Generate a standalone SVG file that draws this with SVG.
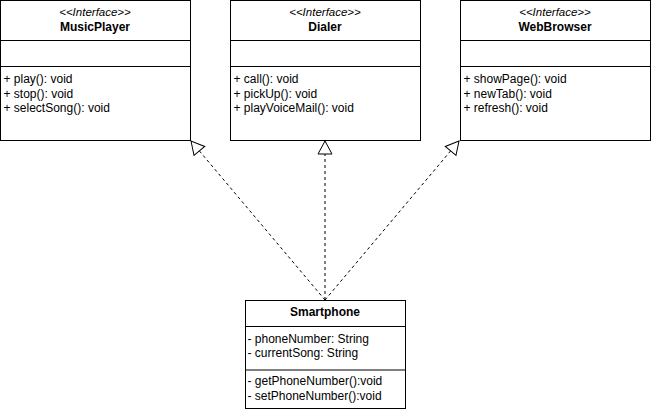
<svg xmlns="http://www.w3.org/2000/svg" width="651" height="411" viewBox="0 0 651 411">
<style>
.box{fill:#fff;stroke:#000;stroke-width:1}
.sep{stroke:#000;stroke-width:1}
.st{font-family:"Liberation Sans",Arial,sans-serif;font-size:11.5px;font-style:italic;text-anchor:middle;fill:#000}
.nm{font-family:"Liberation Sans",Arial,sans-serif;font-size:12px;font-weight:bold;text-anchor:middle;fill:#000}
.tx{font-family:"Liberation Sans",Arial,sans-serif;font-size:12px;fill:#000}
.dash{fill:none;stroke:#000;stroke-width:1;stroke-dasharray:3 3}
</style>
<defs>
<marker id="real" markerUnits="userSpaceOnUse" markerWidth="20" markerHeight="20" viewBox="-15 -10 17 20" refX="0" refY="0" orient="auto">
<path d="M0,0 L-13,-7 L-13,7 Z" fill="#fff" stroke="#000" stroke-width="1"/>
</marker>
</defs>
<rect width="651" height="411" fill="#fff"/>
<g id="connectors">
<line class="dash" x1="325" y1="300" x2="191" y2="141" marker-end="url(#real)"/>
<line class="dash" x1="325" y1="300" x2="325" y2="141" marker-end="url(#real)"/>
<line class="dash" x1="325" y1="300" x2="459" y2="141" marker-end="url(#real)"/>
</g>
<g id="MusicPlayer">
<rect class="box" x="0.5" y="0.5" width="190" height="140"/>
<line class="sep" x1="0.5" y1="40.5" x2="190.5" y2="40.5"/>
<line class="sep" x1="0.5" y1="66.5" x2="190.5" y2="66.5"/>
<text class="st" x="95" y="16">&lt;&lt;Interface&gt;&gt;</text>
<text class="nm" x="95" y="31">MusicPlayer</text>
<text class="tx" x="3.5" y="83">+ play(): void</text>
<text class="tx" x="3.5" y="97.5">+ stop(): void</text>
<text class="tx" x="3.5" y="112">+ selectSong(): void</text>
</g>
<g id="Dialer">
<rect class="box" x="230.5" y="0.5" width="190" height="140"/>
<line class="sep" x1="230.5" y1="40.5" x2="420.5" y2="40.5"/>
<line class="sep" x1="230.5" y1="66.5" x2="420.5" y2="66.5"/>
<text class="st" x="325" y="16">&lt;&lt;Interface&gt;&gt;</text>
<text class="nm" x="325" y="31">Dialer</text>
<text class="tx" x="233.5" y="83">+ call(): void</text>
<text class="tx" x="233.5" y="97.5">+ pickUp(): void</text>
<text class="tx" x="233.5" y="112">+ playVoiceMail(): void</text>
</g>
<g id="WebBrowser">
<rect class="box" x="460.5" y="0.5" width="190" height="140"/>
<line class="sep" x1="460.5" y1="40.5" x2="650.5" y2="40.5"/>
<line class="sep" x1="460.5" y1="66.5" x2="650.5" y2="66.5"/>
<text class="st" x="555" y="16">&lt;&lt;Interface&gt;&gt;</text>
<text class="nm" x="555" y="31">WebBrowser</text>
<text class="tx" x="463.5" y="83">+ showPage(): void</text>
<text class="tx" x="463.5" y="97.5">+ newTab(): void</text>
<text class="tx" x="463.5" y="112">+ refresh(): void</text>
</g>
<g id="Smartphone">
<rect class="box" x="245.5" y="300.5" width="160" height="108"/>
<line class="sep" x1="245.5" y1="326.5" x2="405.5" y2="326.5"/>
<line x1="246" y1="370" x2="405" y2="370" stroke="#808080" stroke-width="2"/>
<text class="nm" x="325" y="316">Smartphone</text>
<text class="tx" x="247.5" y="343">- phoneNumber: String</text>
<text class="tx" x="247.5" y="357">- currentSong: String</text>
<text class="tx" x="247.5" y="385">- getPhoneNumber():void</text>
<text class="tx" x="247.5" y="400">- setPhoneNumber():void</text>
</g>
</svg>
